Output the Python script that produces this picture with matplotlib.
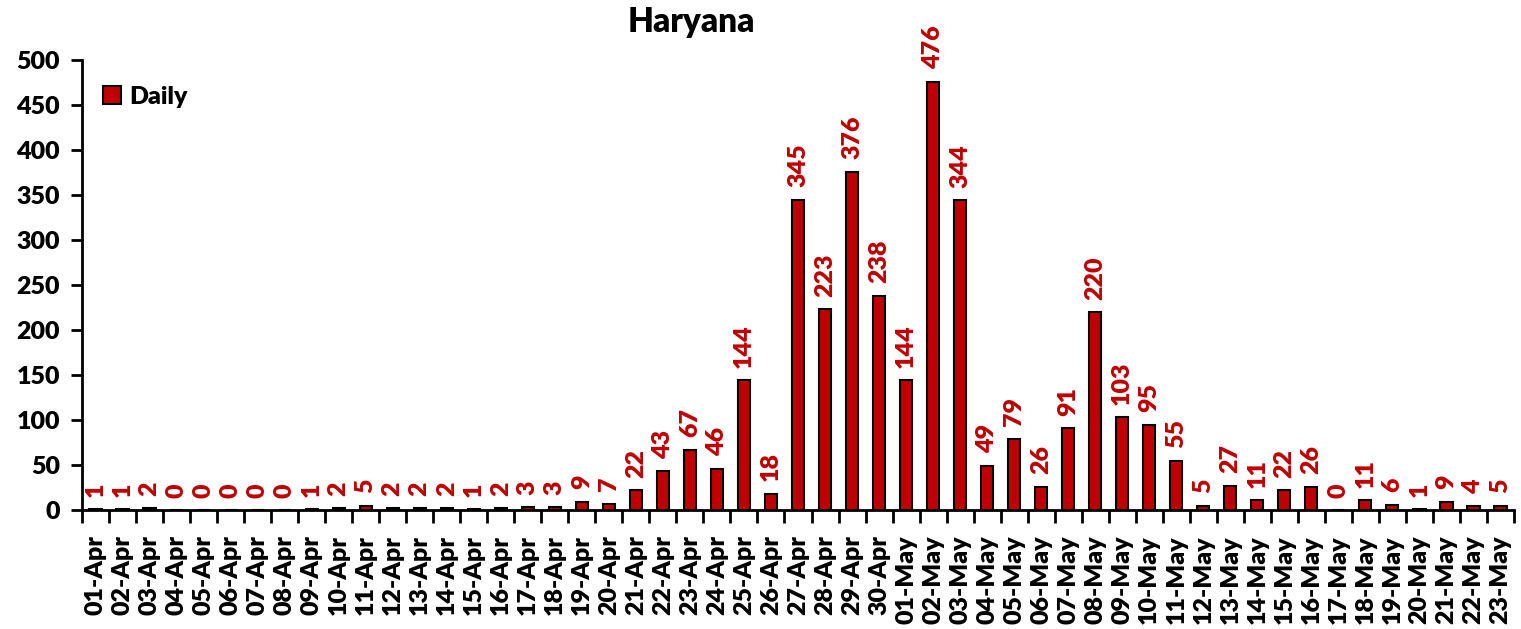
import matplotlib
matplotlib.use("Agg")
import matplotlib.pyplot as plt
import numpy as np

plt.rcParams['font.family'] = ['Lato', 'DejaVu Sans']
plt.rcParams['font.weight'] = 'bold'

apr_days = [f"{d:02d}-Apr" for d in range(1, 31)]
may_days = [f"{d:02d}-May" for d in range(1, 24)]
categories = apr_days + may_days

apr_values = [1, 1, 2, 0, 0, 0, 0, 0, 1, 2, 5, 2, 2, 2, 1, 2, 3, 3, 9, 7,
              22, 43, 67, 46, 144, 18, 345, 223, 376, 238]
may_values = [144, 476, 344, 49, 79, 26, 91, 220, 103, 95, 55, 5, 27, 11, 22,
              26, 0, 11, 6, 1, 9, 4, 5]
daily = apr_values + may_values

y_ticks = [0, 50, 100, 150, 200, 250, 300, 350, 400, 450, 500]

BAR_COLOR = "#C00000"
LABEL_COLOR = "#C00000"
W = "heavy"

fig = plt.figure(figsize=(15.21, 6.29), dpi=100)
ax = fig.add_axes([82/1521, 1 - 510/629, (1514-82)/1521, (510-60)/629])

x = np.arange(len(categories))
bars = ax.bar(x, daily, width=0.45, color=BAR_COLOR, edgecolor="black",
              linewidth=1.5, label="Daily", zorder=3)

for xi, v in zip(x, daily):
    ax.annotate(str(v), (xi, v), xytext=(0, 9), textcoords="offset points",
                rotation=90, ha="center", va="bottom", color=LABEL_COLOR,
                fontsize=18, fontweight=W)

ax.set_xlim(-0.5, len(categories) - 0.5)
ax.set_ylim(0, 500)
ax.set_yticks(y_ticks)
ax.set_yticklabels([str(t) for t in y_ticks], fontsize=18, fontweight=W)
ax.set_xticks(x)
ax.set_xticklabels(categories, rotation=90, fontsize=18, fontweight=W)
ax.set_xticks(np.arange(-0.5, len(categories), 1.0), minor=True)
ax.tick_params(axis="x", which="major", length=0, pad=18)
ax.tick_params(axis="x", which="minor", length=9, width=2, direction="out")
ax.tick_params(axis="y", which="major", length=8, width=2, direction="out", pad=8)

for s in ["top", "right"]:
    ax.spines[s].set_visible(False)
for s in ["left", "bottom"]:
    ax.spines[s].set_linewidth(2)

leg = ax.legend(loc="upper left", bbox_to_anchor=(0.008, 0.965), frameon=False,
                prop={"size": 18, "weight": W}, handlelength=0.7,
                handleheight=0.7, handletextpad=0.35, borderaxespad=0)

fig.text(691/1521, 1 - 22/629, "Haryana", ha="center", va="center",
         fontsize=24, fontweight=W)

fig.savefig("out.png", dpi=100)
